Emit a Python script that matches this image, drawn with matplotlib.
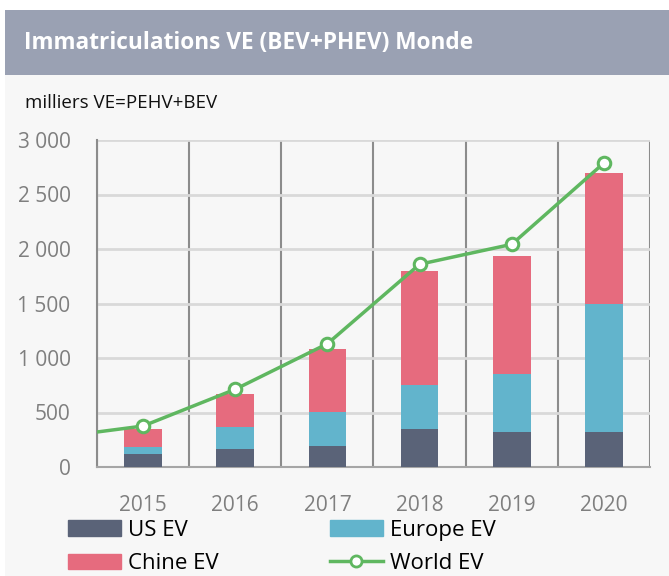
import numpy as np
import matplotlib
matplotlib.use("Agg")
import matplotlib.pyplot as plt
from matplotlib.patches import Rectangle
from matplotlib.lines import Line2D

plt.rcParams["font.family"] = ["Open Sans", "DejaVu Sans"]

# Data (milliers de vehicules)
years = ["2015", "2016", "2017", "2018", "2019", "2020"]
us_ev = [116, 162, 193, 346, 321, 321]
europe_ev = [67, 208, 315, 406, 535, 1177]
chine_ev = [163, 303, 572, 1046, 1083, 1196]
world_ev = [376, 713, 1131, 1860, 2043, 2789]
world_prev = 266  # valeur de l'annee precedente (hors cadre)

c_us = "#5a6378"
c_eu = "#62b4cc"
c_cn = "#e66b7e"
c_world = "#5fb760"

fig = plt.figure(figsize=(6.69, 5.76), dpi=100)
fig.patch.set_facecolor("#f7f7f7")

# white frame at top/left, then grey banner
fig.patches.append(Rectangle((0, 1 - 10 / 576), 1, 10 / 576, transform=fig.transFigure,
                             facecolor="white", edgecolor="none", zorder=0))
fig.patches.append(Rectangle((0, 0), 5 / 669, 1, transform=fig.transFigure,
                             facecolor="white", edgecolor="none", zorder=0))
fig.patches.append(Rectangle((5 / 669, 1 - 75 / 576), 1, 65 / 576, transform=fig.transFigure,
                             facecolor="#9aa1b3", edgecolor="none", zorder=0))
fig.text(24 / 669, 1 - 43 / 576, "Immatriculations VE (BEV+PHEV) Monde",
         color="white", fontsize=16.3, fontweight="bold", va="center", ha="left")
fig.text(25 / 669, 1 - 103 / 576, "milliers VE=PEHV+BEV",
         color="#111111", fontsize=13.5, va="center", ha="left")

ax = fig.add_axes([97 / 669, 109 / 576, 553 / 669, 327 / 576])
ax.set_facecolor("#f7f7f7")

x = np.arange(len(years))
w = 0.41
bottom_eu = np.array(us_ev)
bottom_cn = bottom_eu + np.array(europe_ev)
ax.bar(x, us_ev, w, color=c_us, zorder=3, label="US EV")
ax.bar(x, europe_ev, w, bottom=bottom_eu, color=c_eu, zorder=3, label="Europe EV")
ax.bar(x, chine_ev, w, bottom=bottom_cn, color=c_cn, zorder=3, label="Chine EV")

ax.plot(np.r_[-1, x], [world_prev] + world_ev, color=c_world, lw=2.5, zorder=4)
ax.plot(x, world_ev, ls="none", marker="o", ms=9, mfc="white", mec=c_world,
        mew=2.2, zorder=5)

ax.set_xlim(-0.5, 5.5)
ax.set_ylim(0, 3000)
ax.set_yticks(range(0, 3001, 500))
ax.set_yticklabels(["0", "500", "1 000", "1 500", "2 000", "2 500", "3 000"])
ax.set_xticks(x)
ax.set_xticklabels(years)
ax.set_xticks(np.arange(-0.5, 6, 1), minor=True)

ax.grid(axis="y", which="major", color="#d9d9d9", lw=2, zorder=1)
ax.grid(axis="x", which="minor", color="#8c8c8c", lw=1.5, zorder=2)
ax.tick_params(axis="both", which="both", length=0, colors="#7f7f7f", labelsize=15)
ax.tick_params(axis="y", pad=19)
ax.tick_params(axis="x", pad=20)
for lab in ax.get_yticklabels() + ax.get_xticklabels():
    lab.set_color("#7f7f7f")
for s in ["top", "right"]:
    ax.spines[s].set_visible(False)
ax.spines["left"].set_color("#8c8c8c")
ax.spines["left"].set_linewidth(1.5)
ax.spines["bottom"].set_color("#a6a6a6")
ax.spines["bottom"].set_linewidth(1.5)

handles = [
    Rectangle((0, 0), 1, 1, color=c_us),
    Rectangle((0, 0), 1, 1, color=c_cn),
    Rectangle((0, 0), 1, 1, color=c_eu),
    Line2D([], [], color=c_world, lw=2.5, marker="o", ms=8, mfc="white", mec=c_world, mew=2),
]
labels = ["US EV", "Chine EV", "Europe EV", "World EV"]
fig.legend(handles, labels, ncol=2, loc="upper left",
           bbox_to_anchor=(68 / 669, 1 - 520 / 576), frameon=False,
           fontsize=16, handlelength=2.4, handletextpad=0.3, columnspacing=5.0,
           labelspacing=0.55, borderpad=0, borderaxespad=0)

fig.savefig("out.png", dpi=100, facecolor=fig.get_facecolor())
